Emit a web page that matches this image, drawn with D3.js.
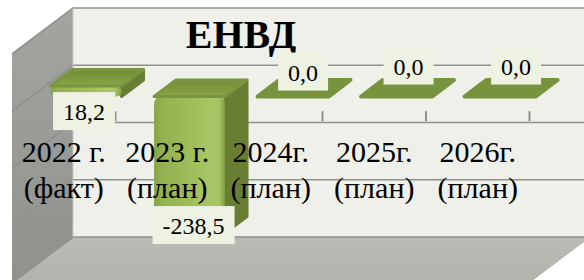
<!DOCTYPE html>
<html>
<head>
<meta charset="utf-8">
<script src="https://cdn.jsdelivr.net/npm/d3@7"></script>
<style>
  body { margin: 0; background: #fff; }
  svg { display: block; }
</style>
</head>
<body>
<div id="chart"></div>
<script>
const title = "ЕНВД";
const years = ["2022 г.", "2023 г.", "2024г.", "2025г.", "2026г."];
const kinds = ["(факт)", "(план)", "(план)", "(план)", "(план)"];
const values = [18.2, -238.5, 0, 0, 0];
const gridValues = [100, 0, -100, -200, -300];

// data labels were dragged by hand in the workbook
const labelShift = [[-2, 25], [4, -8], [10, -25], [12, -31], [16, -31]];

const width = 584, height = 280;
const depth = {dx: -61, dy: 46};   // back wall -> front edge of the floor
const tFront = 0.68, tBack = 0.32; // where the columns sit in depth

const svg = d3.select("#chart").append("svg")
    .attr("width", width)
    .attr("height", height)
    .style("font-family", "\"Liberation Serif\", \"DejaVu Serif\", serif");
const defs = svg.append("defs");

const x = d3.scaleBand().domain(years).range([73, 590.5]);
const y = d3.scaleLinear().domain([100, -300]).range([8, 237]);
const bw = x.bandwidth();
const barLeft = c => x(c) + bw * 0.184;
const barWidth = bw * 0.686;

const fmt = d3.formatLocale({
  decimal: ",", thousands: " ", grouping: [3], currency: ["", ""], minus: "-"
}).format(".1f");

const fx = t => depth.dx * t;
const fy = t => depth.dy * t;

// gradients
function grad(id, stops, x2 = "100%", y2 = "0%") {
  const g = defs.append("linearGradient").attr("id", id)
      .attr("x1", "0%").attr("y1", "0%").attr("x2", x2).attr("y2", y2);
  stops.forEach(s => g.append("stop").attr("offset", s[0]).attr("stop-color", s[1]));
}
grad("leftWall", [["0%", "#a3a5a0"], ["100%", "#8e918c"]], "0%", "100%");
grad("floor", [["0%", "#b9bcb5"], ["100%", "#b1b4ad"]], "0%", "100%");
grad("barFront", [["0%", "#88a547"], ["12%", "#93b250"], ["50%", "#9dbd58"],
  ["84%", "#a9c968"], ["92%", "#a3c362"], ["100%", "#7f9b3f"]]);
grad("barTop", [["0%", "#738c38"], ["100%", "#89a646"]], "0%", "100%");

const y0 = y(0);
const xL = x.range()[0], xR = x.range()[1];
const yTop = y(gridValues[0]), yBot = y(gridValues[gridValues.length - 1]);

// walls and floor
svg.append("rect")
    .attr("x", xL).attr("y", yTop)
    .attr("width", xR - xL).attr("height", yBot - yTop)
    .attr("fill", "#eef0e9");

svg.append("path")
    .attr("d", d3.line()([[xL + depth.dx, yTop + depth.dy], [xL, yTop], [xL, yBot], [xL + depth.dx, yBot + depth.dy]]))
    .attr("fill", "url(#leftWall)");

svg.append("path")
    .attr("d", d3.line()([[xL, yBot], [xR, yBot], [xR + depth.dx, yBot + depth.dy], [xL + depth.dx, yBot + depth.dy]]))
    .attr("fill", "url(#floor)");

// gridlines, on back and left walls
const grid = svg.append("g").attr("fill", "none").attr("stroke", "#8f918d").attr("stroke-width", 1.6);
gridValues.forEach(v => {
  grid.append("path")
      .attr("d", d3.line()([[xL + depth.dx, y(v) + depth.dy], [xL, y(v)], [xR, y(v)]]));
});
svg.append("line")
    .attr("x1", xL).attr("x2", xL).attr("y1", yTop).attr("y2", yBot)
    .attr("stroke", "#c9cbc5").attr("stroke-width", 1);

// title
svg.append("text")
    .attr("x", 241).attr("y", 48)
    .attr("text-anchor", "middle")
    .attr("font-size", 40).attr("font-weight", "bold")
    .text(title);

// tick marks between categories, front plane
svg.append("g").selectAll("line")
  .data(years)
  .join("line")
    .attr("x1", d => x(d) + bw + depth.dx)
    .attr("x2", d => x(d) + bw + depth.dx)
    .attr("y1", y0 + depth.dy)
    .attr("y2", y0 + depth.dy + 10)
    .attr("stroke", "#8f918d").attr("stroke-width", 2);

// columns
const bars = svg.append("g");
years.forEach((c, i) => {
  const v = values[i];
  const a = barLeft(c), b = a + barWidth;
  const yHi = y(Math.max(v, 0)), yLo = y(Math.min(v, 0));
  const F = [fx(tFront), fy(tFront)], B = [fx(tBack), fy(tBack)];
  const topFace = [[a + F[0], yHi + F[1]], [b + F[0], yHi + F[1]], [b + B[0], yHi + B[1]], [a + B[0], yHi + B[1]]];

  if (v === 0) {
    bars.append("path")
        .attr("d", d3.line()(topFace) + "Z")
        .attr("fill", "#77933d")
        .attr("stroke", "#77933d").attr("stroke-width", 4).attr("stroke-linejoin", "round");
    return;
  }

  // right side
  bars.append("path")
      .attr("d", d3.line()([[b + F[0], yHi + F[1]], [b + B[0], yHi + B[1]], [b + B[0], yLo + B[1]], [b + F[0], yLo + F[1]]]) + "Z")
      .attr("fill", "#687e33")
      .attr("stroke", "#687e33").attr("stroke-width", 3).attr("stroke-linejoin", "round");

  // front, rounded at the far end
  const x0 = a + F[0], x1 = b + F[0], yt = yHi + F[1], yb = yLo + F[1];
  const r = Math.min(8, (yb - yt) / 2);
  bars.append("path")
      .attr("d", `M${x0},${yt + r}Q${x0},${yt} ${x0 + r},${yt}H${x1 - r}Q${x1},${yt} ${x1},${yt + r}` +
                 `V${yb - r}Q${x1},${yb} ${x1 - r},${yb}H${x0 + r}Q${x0},${yb} ${x0},${yb - r}Z`)
      .attr("fill", "url(#barFront)");

  // top
  bars.append("path")
      .attr("d", d3.line()(topFace) + "Z")
      .attr("fill", "url(#barTop)")
      .attr("stroke", "#7a9540").attr("stroke-width", 3).attr("stroke-linejoin", "round");
});

// category labels
const cats = svg.append("g").attr("text-anchor", "middle").attr("font-size", 30).attr("fill", "#000");
years.forEach((c, i) => {
  const cx = x(c) + bw / 2 + depth.dx;
  cats.append("text").attr("x", cx).attr("y", 162).text(c);
  cats.append("text").attr("x", cx).attr("y", 198).text(kinds[i]);
});

// data labels
years.forEach((c, i) => {
  const v = values[i];
  const cx = barLeft(c) + barWidth / 2 + fx(tFront) + labelShift[i][0];
  const cy = y(v) + fy(tFront) + labelShift[i][1];
  const g = svg.append("g");
  const rect = g.append("rect").attr("fill", "#eef2e2");
  const t = g.append("text")
      .attr("x", cx).attr("y", cy + 9)
      .attr("text-anchor", "middle")
      .attr("font-size", 24)
      .text(fmt(v));
  const w = t.node().getComputedTextLength() + 20;
  rect.attr("x", cx - w / 2).attr("y", cy - 19).attr("width", w).attr("height", 38);
});
</script>
</body>
</html>
